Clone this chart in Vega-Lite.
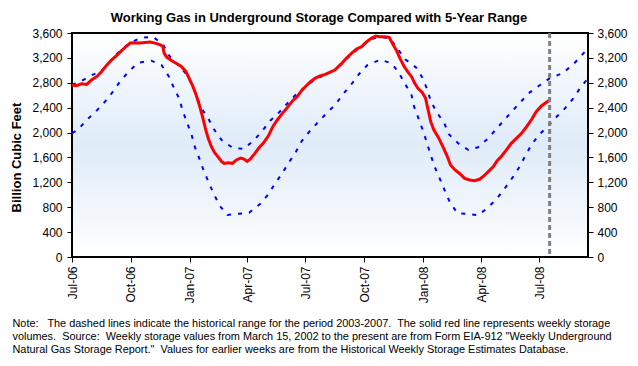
{
"$schema": "https://vega.github.io/schema/vega-lite/v6.json",
"width": 516, "height": 224,
"autosize": {"type": "none"},
"padding": {"left": 72, "top": 33, "right": 50, "bottom": 109},
"background": "#ffffff",
"title": {"text": "Working Gas in Underground Storage Compared with 5-Year Range", "font": "Liberation Sans", "fontSize": 13, "fontWeight": "bold", "color": "#000000", "anchor": "middle", "frame": "group", "dx": -11, "baseline": "alphabetic", "offset": 10, "dy": 18},
"config": {
  "font": "Liberation Sans",
  "view": {"stroke": "#000000", "strokeWidth": 2, "fill": {"gradient": "linear", "x1": 0, "y1": 0, "x2": 0, "y2": 1, "stops": [{"offset": 0, "color": "#ffffff"}, {"offset": 0.5, "color": "#dfebf8"}, {"offset": 1, "color": "#ffffff"}]}},
  "axis": {"grid": false, "domain": false, "tickColor": "#000000", "tickSize": 5, "tickWidth": 1, "labelColor": "#000000", "labelFont": "Liberation Sans", "labelFontSize": 12, "titleColor": "#000000", "titleFont": "Liberation Sans"},
  "axisX": {"values": [{"year": 2006, "month": 7, "date": 1, "utc": true}, {"year": 2006, "month": 10, "date": 1, "utc": true}, {"year": 2007, "month": 1, "date": 1, "utc": true}, {"year": 2007, "month": 4, "date": 1, "utc": true}, {"year": 2007, "month": 7, "date": 1, "utc": true}, {"year": 2007, "month": 10, "date": 1, "utc": true}, {"year": 2008, "month": 1, "date": 1, "utc": true}, {"year": 2008, "month": 4, "date": 1, "utc": true}, {"year": 2008, "month": 7, "date": 1, "utc": true}],
    "labelExpr": "utcFormat(datum.value, '%b-%y')", "labelAngle": -90, "labelPadding": 4, "labelFlush": false, "labelOverlap": false,
    "titleFontSize": 10.9, "titleFontWeight": "normal", "titleAngle": 0, "titleAlign": "left", "titleBaseline": "top", "titleX": -60, "titleY": 60, "titleLineHeight": 13}
},
"data": {"values": [
{"d":"2006-07-01","s":"red","v":2765},{"d":"2006-07-08","s":"red","v":2752},{"d":"2006-07-16","s":"red","v":2785},{"d":"2006-07-24","s":"red","v":2774},{"d":"2006-08-01","s":"red","v":2849},{"d":"2006-08-09","s":"red","v":2902},{"d":"2006-08-16","s":"red","v":2977},{"d":"2006-08-24","s":"red","v":3079},{"d":"2006-09-01","s":"red","v":3170},{"d":"2006-09-09","s":"red","v":3240},{"d":"2006-09-17","s":"red","v":3320},{"d":"2006-09-25","s":"red","v":3395},{"d":"2006-09-30","s":"red","v":3438},{"d":"2006-10-07","s":"red","v":3443},{"d":"2006-10-15","s":"red","v":3438},{"d":"2006-10-23","s":"red","v":3448},{"d":"2006-10-31","s":"red","v":3454},{"d":"2006-11-08","s":"red","v":3438},{"d":"2006-11-16","s":"red","v":3411},{"d":"2006-11-20","s":"red","v":3384},{"d":"2006-11-22","s":"red","v":3277},{"d":"2006-11-26","s":"red","v":3213},{"d":"2006-12-04","s":"red","v":3154},{"d":"2006-12-12","s":"red","v":3106},{"d":"2006-12-19","s":"red","v":3063},{"d":"2006-12-26","s":"red","v":2983},{"d":"2006-12-31","s":"red","v":2876},{"d":"2007-01-06","s":"red","v":2742},{"d":"2007-01-11","s":"red","v":2608},{"d":"2007-01-16","s":"red","v":2447},{"d":"2007-01-21","s":"red","v":2260},{"d":"2007-01-26","s":"red","v":2050},{"d":"2007-01-30","s":"red","v":1907},{"d":"2007-02-04","s":"red","v":1773},{"d":"2007-02-09","s":"red","v":1676},{"d":"2007-02-15","s":"red","v":1602},{"d":"2007-02-20","s":"red","v":1532},{"d":"2007-02-24","s":"red","v":1505},{"d":"2007-03-02","s":"red","v":1516},{"d":"2007-03-09","s":"red","v":1505},{"d":"2007-03-15","s":"red","v":1559},{"d":"2007-03-22","s":"red","v":1591},{"d":"2007-03-27","s":"red","v":1575},{"d":"2007-04-01","s":"red","v":1537},{"d":"2007-04-06","s":"red","v":1575},{"d":"2007-04-13","s":"red","v":1666},{"d":"2007-04-20","s":"red","v":1763},{"d":"2007-04-26","s":"red","v":1827},{"d":"2007-05-04","s":"red","v":1944},{"d":"2007-05-11","s":"red","v":2095},{"d":"2007-05-18","s":"red","v":2202},{"d":"2007-05-26","s":"red","v":2309},{"d":"2007-06-03","s":"red","v":2405},{"d":"2007-06-11","s":"red","v":2512},{"d":"2007-06-18","s":"red","v":2576},{"d":"2007-06-25","s":"red","v":2673},{"d":"2007-07-02","s":"red","v":2748},{"d":"2007-07-09","s":"red","v":2817},{"d":"2007-07-16","s":"red","v":2871},{"d":"2007-07-24","s":"red","v":2909},{"d":"2007-08-01","s":"red","v":2936},{"d":"2007-08-08","s":"red","v":2968},{"d":"2007-08-16","s":"red","v":3005},{"d":"2007-08-27","s":"red","v":3112},{"d":"2007-09-03","s":"red","v":3193},{"d":"2007-09-11","s":"red","v":3273},{"d":"2007-09-19","s":"red","v":3343},{"d":"2007-09-27","s":"red","v":3380},{"d":"2007-10-05","s":"red","v":3460},{"d":"2007-10-12","s":"red","v":3514},{"d":"2007-10-19","s":"red","v":3551},{"d":"2007-10-25","s":"red","v":3541},{"d":"2007-11-02","s":"red","v":3541},{"d":"2007-11-09","s":"red","v":3530},{"d":"2007-11-14","s":"red","v":3434},{"d":"2007-11-20","s":"red","v":3327},{"d":"2007-11-26","s":"red","v":3193},{"d":"2007-12-02","s":"red","v":3069},{"d":"2007-12-09","s":"red","v":2962},{"d":"2007-12-14","s":"red","v":2898},{"d":"2007-12-19","s":"red","v":2791},{"d":"2007-12-24","s":"red","v":2711},{"d":"2007-12-31","s":"red","v":2641},{"d":"2008-01-05","s":"red","v":2550},{"d":"2008-01-09","s":"red","v":2362},{"d":"2008-01-13","s":"red","v":2175},{"d":"2008-01-18","s":"red","v":2041},{"d":"2008-01-25","s":"red","v":1923},{"d":"2008-02-01","s":"red","v":1773},{"d":"2008-02-07","s":"red","v":1639},{"d":"2008-02-13","s":"red","v":1478},{"d":"2008-02-20","s":"red","v":1398},{"d":"2008-02-28","s":"red","v":1334},{"d":"2008-03-06","s":"red","v":1264},{"d":"2008-03-14","s":"red","v":1237},{"d":"2008-03-22","s":"red","v":1227},{"d":"2008-03-30","s":"red","v":1253},{"d":"2008-04-05","s":"red","v":1302},{"d":"2008-04-12","s":"red","v":1371},{"d":"2008-04-20","s":"red","v":1452},{"d":"2008-04-26","s":"red","v":1548},{"d":"2008-05-03","s":"red","v":1623},{"d":"2008-05-11","s":"red","v":1730},{"d":"2008-05-18","s":"red","v":1827},{"d":"2008-05-26","s":"red","v":1907},{"d":"2008-06-03","s":"red","v":1988},{"d":"2008-06-11","s":"red","v":2095},{"d":"2008-06-19","s":"red","v":2213},{"d":"2008-06-26","s":"red","v":2335},{"d":"2008-07-04","s":"red","v":2427},{"d":"2008-07-11","s":"red","v":2480},{"d":"2008-07-17","s":"red","v":2523},
{"d":"2006-07-01","s":"hi","v":2770},{"d":"2006-07-11","s":"hi","v":2801},{"d":"2006-07-29","s":"hi","v":2909},{"d":"2006-08-16","s":"hi","v":2989},{"d":"2006-08-29","s":"hi","v":3134},{"d":"2006-09-11","s":"hi","v":3284},{"d":"2006-09-27","s":"hi","v":3423},{"d":"2006-10-15","s":"hi","v":3519},{"d":"2006-11-04","s":"hi","v":3541},{"d":"2006-11-20","s":"hi","v":3423},{"d":"2006-11-29","s":"hi","v":3246},{"d":"2006-12-13","s":"hi","v":3096},{"d":"2006-12-25","s":"hi","v":2962},{"d":"2007-01-04","s":"hi","v":2791},{"d":"2007-01-12","s":"hi","v":2587},{"d":"2007-01-18","s":"hi","v":2405},{"d":"2007-01-24","s":"hi","v":2320},{"d":"2007-01-30","s":"hi","v":2229},{"d":"2007-02-08","s":"hi","v":2052},{"d":"2007-02-20","s":"hi","v":1880},{"d":"2007-03-09","s":"hi","v":1757},{"d":"2007-03-26","s":"hi","v":1736},{"d":"2007-04-11","s":"hi","v":1869},{"d":"2007-04-24","s":"hi","v":2020},{"d":"2007-05-07","s":"hi","v":2191},{"d":"2007-05-21","s":"hi","v":2325},{"d":"2007-06-03","s":"hi","v":2470},{"d":"2007-06-17","s":"hi","v":2619},{"d":"2007-07-02","s":"hi","v":2748},{"d":"2007-07-19","s":"hi","v":2871},{"d":"2007-08-06","s":"hi","v":2952},{"d":"2007-08-21","s":"hi","v":3059},{"d":"2007-09-06","s":"hi","v":3209},{"d":"2007-09-22","s":"hi","v":3353},{"d":"2007-10-07","s":"hi","v":3476},{"d":"2007-10-23","s":"hi","v":3541},{"d":"2007-11-10","s":"hi","v":3514},{"d":"2007-11-23","s":"hi","v":3337},{"d":"2007-12-04","s":"hi","v":3177},{"d":"2007-12-21","s":"hi","v":3048},{"d":"2007-12-31","s":"hi","v":2882},{"d":"2008-01-07","s":"hi","v":2705},{"d":"2008-01-13","s":"hi","v":2512},{"d":"2008-01-22","s":"hi","v":2330},{"d":"2008-02-03","s":"hi","v":2159},{"d":"2008-02-10","s":"hi","v":1977},{"d":"2008-02-25","s":"hi","v":1827},{"d":"2008-03-12","s":"hi","v":1720},{"d":"2008-03-27","s":"hi","v":1763},{"d":"2008-04-12","s":"hi","v":1907},{"d":"2008-04-24","s":"hi","v":2052},{"d":"2008-05-07","s":"hi","v":2202},{"d":"2008-05-21","s":"hi","v":2362},{"d":"2008-06-03","s":"hi","v":2507},{"d":"2008-06-16","s":"hi","v":2646},{"d":"2008-07-02","s":"hi","v":2764},{"d":"2008-07-17","s":"hi","v":2871},{"d":"2008-08-06","s":"hi","v":2952},{"d":"2008-08-23","s":"hi","v":3096},{"d":"2008-09-04","s":"hi","v":3230},{"d":"2008-09-15","s":"hi","v":3353},
{"d":"2006-07-01","s":"lo","v":1990},{"d":"2006-07-11","s":"lo","v":2052},{"d":"2006-07-24","s":"lo","v":2202},{"d":"2006-08-07","s":"lo","v":2335},{"d":"2006-08-22","s":"lo","v":2502},{"d":"2006-09-03","s":"lo","v":2657},{"d":"2006-09-15","s":"lo","v":2833},{"d":"2006-09-29","s":"lo","v":2994},{"d":"2006-10-13","s":"lo","v":3123},{"d":"2006-11-02","s":"lo","v":3155},{"d":"2006-11-18","s":"lo","v":3085},{"d":"2006-11-29","s":"lo","v":2909},{"d":"2006-12-07","s":"lo","v":2727},{"d":"2006-12-16","s":"lo","v":2539},{"d":"2006-12-21","s":"lo","v":2351},{"d":"2006-12-28","s":"lo","v":2158},{"d":"2007-01-04","s":"lo","v":1965},{"d":"2007-01-09","s":"lo","v":1773},{"d":"2007-01-16","s":"lo","v":1586},{"d":"2007-01-23","s":"lo","v":1387},{"d":"2007-01-31","s":"lo","v":1194},{"d":"2007-02-08","s":"lo","v":1007},{"d":"2007-02-17","s":"lo","v":825},{"d":"2007-03-01","s":"lo","v":675},{"d":"2007-03-19","s":"lo","v":696},{"d":"2007-04-04","s":"lo","v":712},{"d":"2007-04-21","s":"lo","v":852},{"d":"2007-05-04","s":"lo","v":1007},{"d":"2007-05-14","s":"lo","v":1173},{"d":"2007-05-25","s":"lo","v":1334},{"d":"2007-06-05","s":"lo","v":1516},{"d":"2007-06-16","s":"lo","v":1687},{"d":"2007-06-25","s":"lo","v":1859},{"d":"2007-07-08","s":"lo","v":2025},{"d":"2007-07-21","s":"lo","v":2169},{"d":"2007-08-03","s":"lo","v":2309},{"d":"2007-08-16","s":"lo","v":2438},{"d":"2007-08-30","s":"lo","v":2630},{"d":"2007-09-12","s":"lo","v":2791},{"d":"2007-09-23","s":"lo","v":2941},{"d":"2007-10-06","s":"lo","v":3085},{"d":"2007-10-26","s":"lo","v":3171},{"d":"2007-11-13","s":"lo","v":3112},{"d":"2007-11-24","s":"lo","v":2962},{"d":"2007-12-04","s":"lo","v":2780},{"d":"2007-12-14","s":"lo","v":2603},{"d":"2007-12-18","s":"lo","v":2416},{"d":"2007-12-25","s":"lo","v":2223},{"d":"2008-01-01","s":"lo","v":2030},{"d":"2008-01-07","s":"lo","v":1837},{"d":"2008-01-13","s":"lo","v":1639},{"d":"2008-01-19","s":"lo","v":1452},{"d":"2008-01-27","s":"lo","v":1264},{"d":"2008-02-04","s":"lo","v":1066},{"d":"2008-02-12","s":"lo","v":879},{"d":"2008-02-24","s":"lo","v":702},{"d":"2008-03-12","s":"lo","v":691},{"d":"2008-03-27","s":"lo","v":670},{"d":"2008-04-12","s":"lo","v":799},{"d":"2008-04-26","s":"lo","v":943},{"d":"2008-05-09","s":"lo","v":1120},{"d":"2008-05-21","s":"lo","v":1291},{"d":"2008-05-31","s":"lo","v":1452},{"d":"2008-06-09","s":"lo","v":1628},{"d":"2008-06-19","s":"lo","v":1811},{"d":"2008-07-01","s":"lo","v":1971},{"d":"2008-07-15","s":"lo","v":2110},{"d":"2008-07-28","s":"lo","v":2255},{"d":"2008-08-10","s":"lo","v":2389},{"d":"2008-08-23","s":"lo","v":2550},{"d":"2008-09-03","s":"lo","v":2721},{"d":"2008-09-15","s":"lo","v":2871}
]},
"layer": [
  {
    "transform": [{"filter": "datum.s !== 'red'"}],
    "mark": {"type": "line", "color": "#0000ff", "strokeWidth": 2, "strokeDash": [4, 7], "strokeCap": "butt", "clip": true},
    "encoding": {
      "x": {"field": "d", "type": "temporal", "scale": {"type": "utc", "domain": [{"year": 2006, "month": 7, "date": 1, "utc": true}, {"year": 2008, "month": 9, "date": 15, "utc": true}], "nice": false},
        "axis": {"title": ["Note:\u00a0\u00a0 The dashed lines indicate the historical range for the period 2003-2007.\u00a0 The solid red line represents weekly storage", "volumes.\u00a0 Source:\u00a0 Weekly storage values from March 15, 2002 to the present are from Form EIA-912 \"Weekly Underground", "Natural Gas Storage Report.\"\u00a0 Values for earlier weeks are from the Historical Weekly Storage Estimates Database."]}},
      "y": {"field": "v", "type": "quantitative", "scale": {"domain": [0, 3600], "nice": false}, "axis": {"orient": "right", "title": null, "values": [0, 400, 800, 1200, 1600, 2000, 2400, 2800, 3200, 3600], "format": ",.0f", "labelPadding": 4}},
      "detail": {"field": "s"}
    }
  },
  {
    "transform": [{"filter": "datum.s === 'red'"}],
    "mark": {"type": "line", "color": "#ff0000", "strokeWidth": 3, "clip": true},
    "encoding": {
      "x": {"field": "d", "type": "temporal", "scale": {"type": "utc", "domain": [{"year": 2006, "month": 7, "date": 1, "utc": true}, {"year": 2008, "month": 9, "date": 15, "utc": true}], "nice": false},
        "axis": {"title": ["Note:\u00a0\u00a0 The dashed lines indicate the historical range for the period 2003-2007.\u00a0 The solid red line represents weekly storage", "volumes.\u00a0 Source:\u00a0 Weekly storage values from March 15, 2002 to the present are from Form EIA-912 \"Weekly Underground", "Natural Gas Storage Report.\"\u00a0 Values for earlier weeks are from the Historical Weekly Storage Estimates Database."]}},
      "y": {"field": "v", "type": "quantitative", "scale": {"domain": [0, 3600], "nice": false}, "axis": {"orient": "left", "title": "Billion Cubic Feet", "values": [0, 400, 800, 1200, 1600, 2000, 2400, 2800, 3200, 3600], "format": ",.0f", "labelPadding": 5, "titleFontSize": 13, "titleFontWeight": "bold", "titleAngle": -90, "titleAlign": "center", "titleBaseline": "middle", "titleX": -56, "titleY": 124}}
    }
  },
  {
    "data": {"values": [{}]},
    "mark": {"type": "rule", "color": "#808080", "strokeWidth": 3, "strokeDash": [5, 3]},
    "encoding": {
      "x": {"datum": {"year": 2008, "month": 7, "date": 17, "utc": true}, "type": "temporal",
        "axis": {"title": ["Note:\u00a0\u00a0 The dashed lines indicate the historical range for the period 2003-2007.\u00a0 The solid red line represents weekly storage", "volumes.\u00a0 Source:\u00a0 Weekly storage values from March 15, 2002 to the present are from Form EIA-912 \"Weekly Underground", "Natural Gas Storage Report.\"\u00a0 Values for earlier weeks are from the Historical Weekly Storage Estimates Database."]}}
    }
  }
],
"resolve": {"axis": {"y": "independent"}}
}
